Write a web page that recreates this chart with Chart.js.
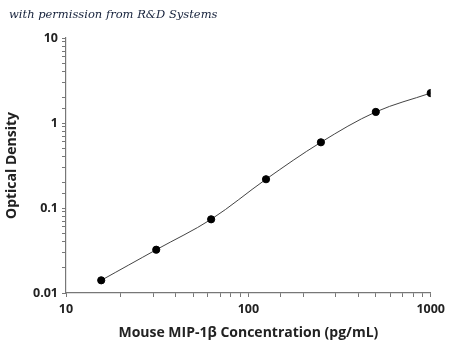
<!DOCTYPE html>
<html lang="en">
<head>
    <meta charset="utf-8">
    <title>Mouse MIP-1β standard curve</title>
    <script src="https://cdn.jsdelivr.net/npm/chart.js"></script>
    <style>
        body { margin: 0; background: #fff; }
        #wrap { position: relative; width: 450px; height: 350px; }
        #credit {
            position: absolute; left: 9px; top: 7px;
            font-family: "URW Chancery L", "DejaVu Serif", serif;
            font-style: italic; font-size: 11.5px; color: #14203a;
        }
    </style>
</head>
<body>
    <div id="wrap">
        <canvas id="odChart" width="450" height="350"></canvas>
        <div id="credit">with permission from R&amp;D Systems</div>
    </div>

    <script>
        // standard concentrations (pg/mL) and optical density readings
        const concentrations = [15.6, 31.25, 62.5, 125, 250, 500, 1000];
        const odValues = [0.0141, 0.0323, 0.0736, 0.218, 0.593, 1.35, 2.25];
        const xTickLabels = [10, 100, 1000];
        const yTickLabels = [0.01, 0.1, 1, 10];

        const points = concentrations.map((c, i) => ({ x: c, y: odValues[i] }));

        const tickFont = { family: '"Open Sans", "DejaVu Sans", sans-serif', size: 12.5, weight: 'bold' };
        const titleFont = { family: '"Open Sans", "DejaVu Sans", sans-serif', size: 14, weight: 'bold' };

        const isLabelled = (list, v) => list.some(t => Math.abs(t - v) / t < 1e-6);

        new Chart(document.getElementById('odChart'), {
            type: 'line',
            data: {
                datasets: [{
                    data: points,
                    borderColor: '#444',
                    borderWidth: 1,
                    tension: 0.35,
                    pointRadius: 3.6,
                    pointBackgroundColor: '#000',
                    pointBorderColor: '#000',
                    fill: false
                }]
            },
            options: {
                responsive: false,
                animation: false,
                layout: { padding: { left: 4, right: 19, top: 38, bottom: 5 } },
                plugins: { legend: { display: false }, tooltip: { enabled: false } },
                scales: {
                    x: {
                        type: 'logarithmic',
                        min: 10,
                        max: 1000,
                        afterFit: (scale) => { scale.height = 52; },
                        border: { color: '#777', width: 1.2 },
                        grid: { drawOnChartArea: false, tickLength: 4, color: '#777' },
                        ticks: {
                            autoSkip: false,
                            maxRotation: 0,
                            color: '#222',
                            font: tickFont,
                            padding: 5,
                            callback: (v) => isLabelled(xTickLabels, v) ? String(v) : ''
                        },
                        title: {
                            display: true,
                            text: 'Mouse MIP-1β Concentration (pg/mL)',
                            color: '#222',
                            font: titleFont,
                            padding: { top: 11 }
                        }
                    },
                    y: {
                        type: 'logarithmic',
                        min: 0.01,
                        max: 10,
                        afterFit: (scale) => { scale.width = 62; },
                        border: { color: '#777', width: 1.2 },
                        grid: { drawOnChartArea: false, tickLength: 4, color: '#777' },
                        ticks: {
                            autoSkip: false,
                            color: '#222',
                            font: tickFont,
                            padding: 4,
                            callback: (v) => isLabelled(yTickLabels, v) ? String(v) : ''
                        },
                        title: {
                            display: true,
                            text: 'Optical Density',
                            color: '#222',
                            font: titleFont,
                            padding: { top: 0, bottom: 8 }
                        }
                    }
                }
            }
        });
    </script>
</body>
</html>
